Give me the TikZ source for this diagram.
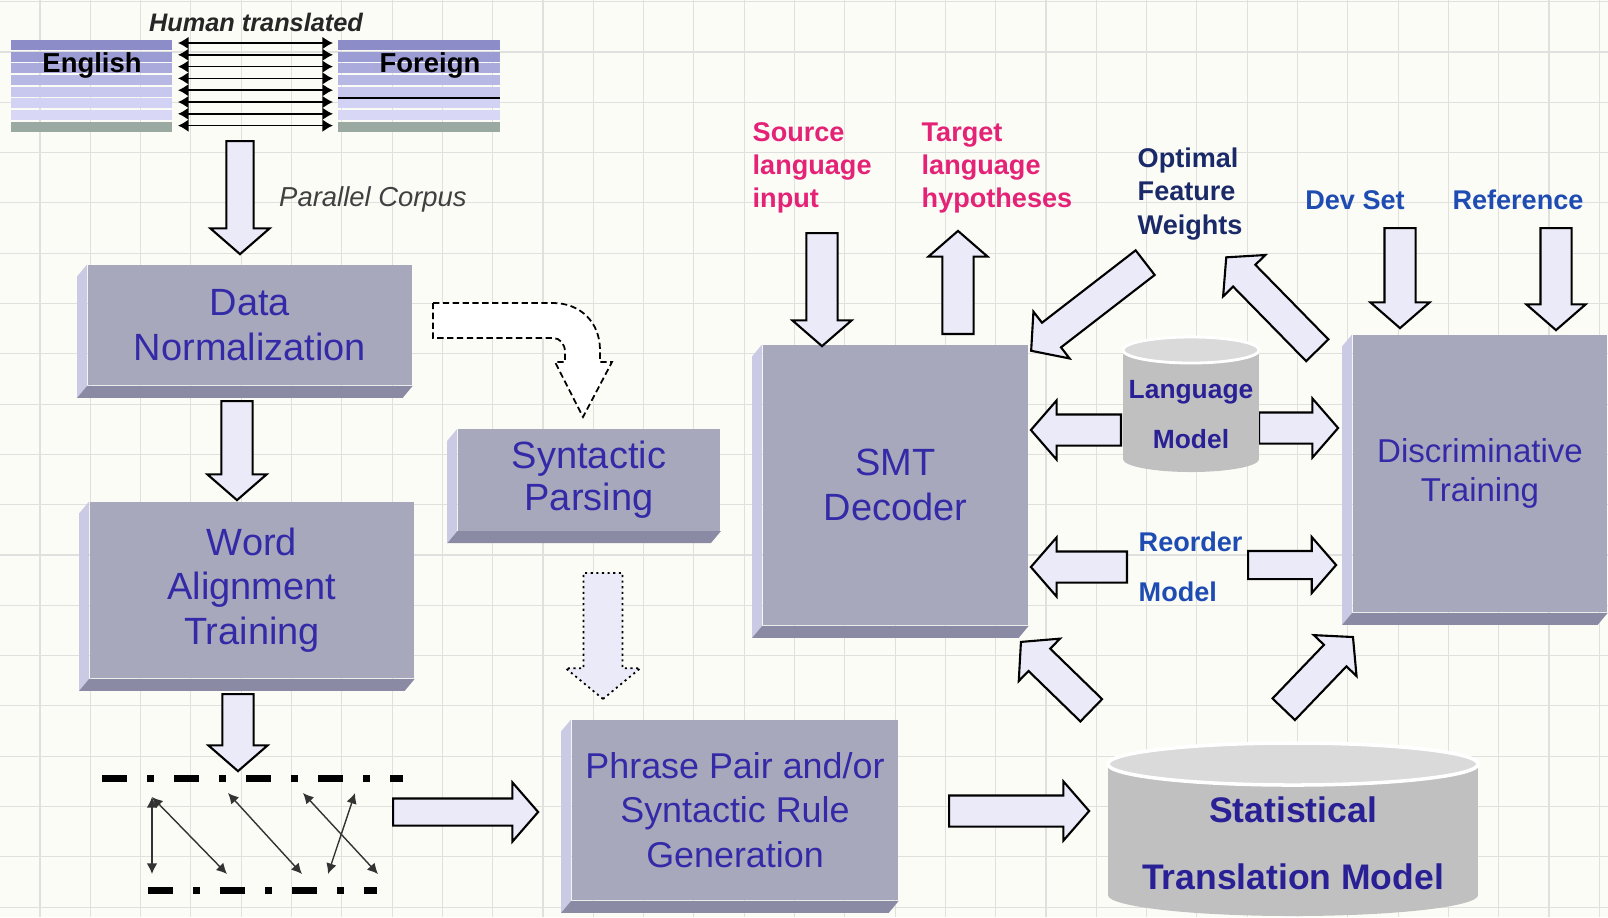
\documentclass[tikz,border=0pt]{standalone}
\usepackage{fontspec}
\setmainfont{Liberation Sans}
\usetikzlibrary{positioning, arrows.meta, shapes.arrows}

\definecolor{paper}{RGB}{252,252,247}
\definecolor{gridgray}{RGB}{224,224,222}
\definecolor{boxfront}{RGB}{168,168,188}
\definecolor{boxleft}{RGB}{202,202,228}
\definecolor{boxbottom}{RGB}{138,138,164}
\definecolor{boxtext}{RGB}{52,42,168}
\definecolor{arrowfill}{RGB}{234,234,248}
\definecolor{pinklabel}{RGB}{228,34,118}
\definecolor{navylabel}{RGB}{26,42,104}
\definecolor{bluelabel}{RGB}{30,76,178}
\definecolor{dbtext}{RGB}{42,32,150}
\definecolor{dbbody}{RGB}{192,192,192}
\definecolor{dbtop}{RGB}{218,218,218}
% stripes of the two corpus blocks, top to bottom
\definecolor{band1}{RGB}{140,140,200}
\definecolor{band2}{RGB}{156,156,212}
\definecolor{band3}{RGB}{170,170,220}
\definecolor{band4}{RGB}{184,184,228}
\definecolor{band5}{RGB}{200,200,238}
\definecolor{band6}{RGB}{210,210,244}
\definecolor{band7}{RGB}{216,216,246}
\definecolor{band8}{RGB}{154,170,162}

% left and bottom faces of a bevelled box
\newcommand{\bevelsides}[1]{%
	\fill[boxleft] (#1.north west) -- ++(-10,12) -- ([shift={(-10,12)}]#1.south west) -- (#1.south west) -- cycle;
	\fill[boxbottom] (#1.south west) -- ([shift={(-10,12)}]#1.south west) -- ([shift={(-10,12)}]#1.south east) -- (#1.south east) -- cycle;
}

\begin{document}
\begin{tikzpicture}[
			% GLOBAL CFG
			x=0.01cm, y=-0.01cm,
			>=Latex,
			% Styles
			box/.style={% front face of the process boxes
				rectangle,
				fill=boxfront,
				inner sep=0pt,
				align=center,
				text=boxtext,
				font=\fontsize{10.8}{12.6}\selectfont,
			},
			blockarrow/.style={% hollow block arrows
				single arrow,
				draw=black,
				line width=0.6pt,
				fill=arrowfill,
				inner xsep=0pt,
				inner ysep=0.145cm,
				single arrow tip angle=98,
				single arrow head extend=0.14cm,
			},
			lbl/.style={% bold side labels
				inner sep=0pt,
				align=left,
				anchor=west,
				font=\fontsize{7.7}{9.4}\selectfont\bfseries,
			},
			dblbl/.style={% text on the cylinders
				inner sep=0pt,
				align=center,
				text=dbtext,
			},
			gridline/.style={draw=gridgray, line width=0.3pt},
			pairline/.style={<->, line width=0.5pt, >={Latex[length=3pt,width=3.6pt]}},
			linkline/.style={<->, line width=0.4pt, draw=black!80, >={Latex[length=3pt,width=3pt]}},
			wordline/.style={line width=2pt, dash pattern=on 0.25cm off 0.2cm on 0.07cm off 0.2cm},
			]
			\useasboundingbox (0,0) rectangle (1608,917);
			\fill[paper] (0,0) rectangle (1608,917);
			
			% Background grid
			\foreach \k in {0,...,31}
				\draw[gridline] ({40+50.3*\k},0) -- ({40+50.3*\k},917);
			\foreach \k in {0,...,18}
				\draw[gridline] (0,{1.7+50.3*\k}) -- (1608,{1.7+50.3*\k});
			
			% Parallel corpus: two striped blocks joined by arrows
			\foreach \i in {1,...,8}{
				\fill[band\i] (11,{40+11.65*(\i-1)}) rectangle (172,{40+11.65*\i-1.5});
				\fill[band\i] (338,{40+11.65*(\i-1)}) rectangle (500,{40+11.65*\i-1.5});
			}
			\draw[line width=0.6pt] (338,98) -- (500,98);
			\foreach \i in {0,...,7}
				\draw[pairline] (178,{43+11.8*\i}) -- (333,{43+11.8*\i});
			\node[font=\fontsize{7.8}{9}\selectfont\bfseries] (en) at (92,65) {English};
			\node[font=\fontsize{7.8}{9}\selectfont\bfseries] (fr) at (430,65) {Foreign};
			\node[font=\fontsize{7.2}{9}\selectfont\bfseries\itshape, text=black!85] (human) at (256,22) {Human translated};
			
			\node[blockarrow, minimum height=1.13cm, rotate=270, anchor=tail, inner ysep=0.125cm, single arrow head extend=0.16cm] (pcarrow) at (240,140) {};
			\node[font=\fontsize{7.8}{9}\selectfont\itshape, text=black!75] (pclbl) at (373,199) {Parallel Corpus};
			
			% Process boxes
			\node[box, minimum width=3.24cm, minimum height=1.20cm] (norm) at (250,325) {Data\\Normalization};
			\node[box, minimum width=3.24cm, minimum height=1.76cm] (align) at (252,590) {Word\\Alignment\\Training};
			\node[box, minimum width=2.62cm, minimum height=1.01cm, font=\fontsize{10.8}{12}\selectfont] (parse) at (589,480) {Syntactic\\Parsing};
			\node[box, minimum width=3.26cm, minimum height=1.80cm, font=\fontsize{10.2}{12.6}\selectfont] (phrase) at (735,810) {Phrase Pair and/or\\Syntactic Rule\\Generation};
			\node[box, minimum width=2.65cm, minimum height=2.80cm] (smt) at (895.5,485) {SMT\\Decoder};
			\node[box, minimum width=2.54cm, minimum height=2.77cm, font=\fontsize{9.4}{10.9}\selectfont] (disc) at (1480,473.5) {Discriminative\\Training};
			\foreach \b in {norm, align, parse, phrase, smt, disc}{
				\bevelsides{\b}
			}
			
			\node[blockarrow, minimum height=0.99cm, rotate=270, anchor=tail] (normdown) at (237,400) {};
			\node[blockarrow, minimum height=0.77cm, rotate=270, anchor=tail] (aligndown) at (238,693) {};
			
			% Word alignment sketch
			\draw[wordline] (102,778) -- (403,778);
			\draw[wordline] (148,890) -- (377,890);
			\coordinate (s1) at (152,797);
			\coordinate (s2) at (228,793);
			\coordinate (s3) at (303,793);
			\coordinate (s4) at (355,793);
			\coordinate (t1) at (152,874);
			\coordinate (t2) at (227,874);
			\coordinate (t3) at (302,874);
			\coordinate (t4) at (328,874);
			\coordinate (t5) at (378,874);
			\draw[linkline] (s1) -- (t1);
			\draw[linkline] (s1) -- (t2);
			\draw[linkline] (s2) -- (t3);
			\draw[linkline] (s3) -- (t5);
			\draw[linkline] (s4) -- (t4);
			
			\node[blockarrow, minimum height=1.45cm, anchor=tail, inner ysep=0.125cm, single arrow head extend=0.16cm] (tophrase) at (392,812) {};
			\node[blockarrow, minimum height=1.40cm, anchor=tail] (tostat) at (948,811) {};
			
			% Bent dashed arrow into the parser
			\draw[fill=white, line width=0.5pt, dash pattern=on 1.8pt off 1pt]
				(433,303) -- (553,303) .. controls (580,303) and (600,322) .. (600,350)
				-- (600,362) -- (612,362) -- (583,417) -- (555,362) -- (565,362) -- (565,352)
				.. controls (565,344) and (560,338) .. (553,338) -- (433,338) -- cycle;
			\node[blockarrow, densely dotted, line width=0.5pt, minimum height=1.26cm, inner ysep=0.185cm,
				single arrow head extend=0.18cm, single arrow tip angle=101, rotate=270, anchor=tail] (parsedown) at (603,572) {};
			
			% Decoder inputs and outputs
			\node[lbl, text=pinklabel] (srclbl) at (752,168) {Source\\language\\input};
			\node[lbl, text=pinklabel] (tgtlbl) at (921,168) {Target\\language\\hypotheses};
			\node[lbl, text=navylabel] (optlbl) at (1137,194) {Optimal\\Feature\\Weights};
			\node[lbl, text=bluelabel, anchor=center] (devlbl) at (1355,200) {Dev Set};
			\node[lbl, text=bluelabel, anchor=center] (reflbl) at (1518,200) {Reference};
			
			\node[blockarrow, minimum height=1.13cm, rotate=270, anchor=tail] (srcdown) at (822,232) {};
			\node[blockarrow, minimum height=1.03cm, rotate=90, anchor=tail] (tgtup) at (958,335) {};
			\node[blockarrow, minimum height=1.44cm, rotate=217.7, anchor=tail] (optdown) at (1146,262) {};
			\node[blockarrow, minimum height=1.30cm, rotate=134.4, anchor=tail] (optup) at (1318,351) {};
			\node[blockarrow, minimum height=1.00cm, rotate=270, anchor=tail] (devdown) at (1400,227) {};
			\node[blockarrow, minimum height=1.02cm, rotate=270, anchor=tail] (refdown) at (1556,227) {};
			
			% Language model and reordering model
			\node[blockarrow, minimum height=0.90cm, rotate=180, anchor=tail] (lmleft) at (1122,430) {};
			\node[blockarrow, minimum height=0.79cm, anchor=tail] (lmright) at (1258,428) {};
			\fill[dbbody] (1123,350) rectangle (1259,459);
			\fill[dbbody] (1191,459) ellipse [x radius=0.68cm, y radius=0.13cm];
			\filldraw[fill=dbtop, draw=white, line width=0.8pt] (1191,350) ellipse [x radius=0.68cm, y radius=0.13cm];
			\node[dblbl, font=\fontsize{7.5}{14.2}\selectfont\bfseries] (lm) at (1191,415) {Language\\Model};
			
			\node[blockarrow, minimum height=0.96cm, rotate=180, anchor=tail] (reoleft) at (1128,567) {};
			\node[blockarrow, minimum height=0.88cm, anchor=tail, inner ysep=0.13cm] (reoright) at (1247,565) {};
			\node[lbl, text=bluelabel, font=\fontsize{7.7}{14.2}\selectfont\bfseries] (reolbl) at (1138,567) {Reorder\\Model};
			
			% Translation model store
			\node[blockarrow, minimum height=0.98cm, rotate=135.8, anchor=tail] (statsmt) at (1092,711) {};
			\node[blockarrow, minimum height=1.00cm, rotate=46.2, anchor=tail] (statdisc) at (1283,710) {};
			\fill[dbbody] (1108,764) rectangle (1478,895);
			\fill[dbbody] (1293,895) ellipse [x radius=1.85cm, y radius=0.21cm];
			\filldraw[fill=dbtop, draw=white, line width=1pt] (1293,764) ellipse [x radius=1.85cm, y radius=0.21cm];
			\node[dblbl, font=\fontsize{10.1}{19}\selectfont\bfseries] (stm) at (1293,843) {Statistical\\Translation Model};
			
		\end{tikzpicture}
\end{document}
